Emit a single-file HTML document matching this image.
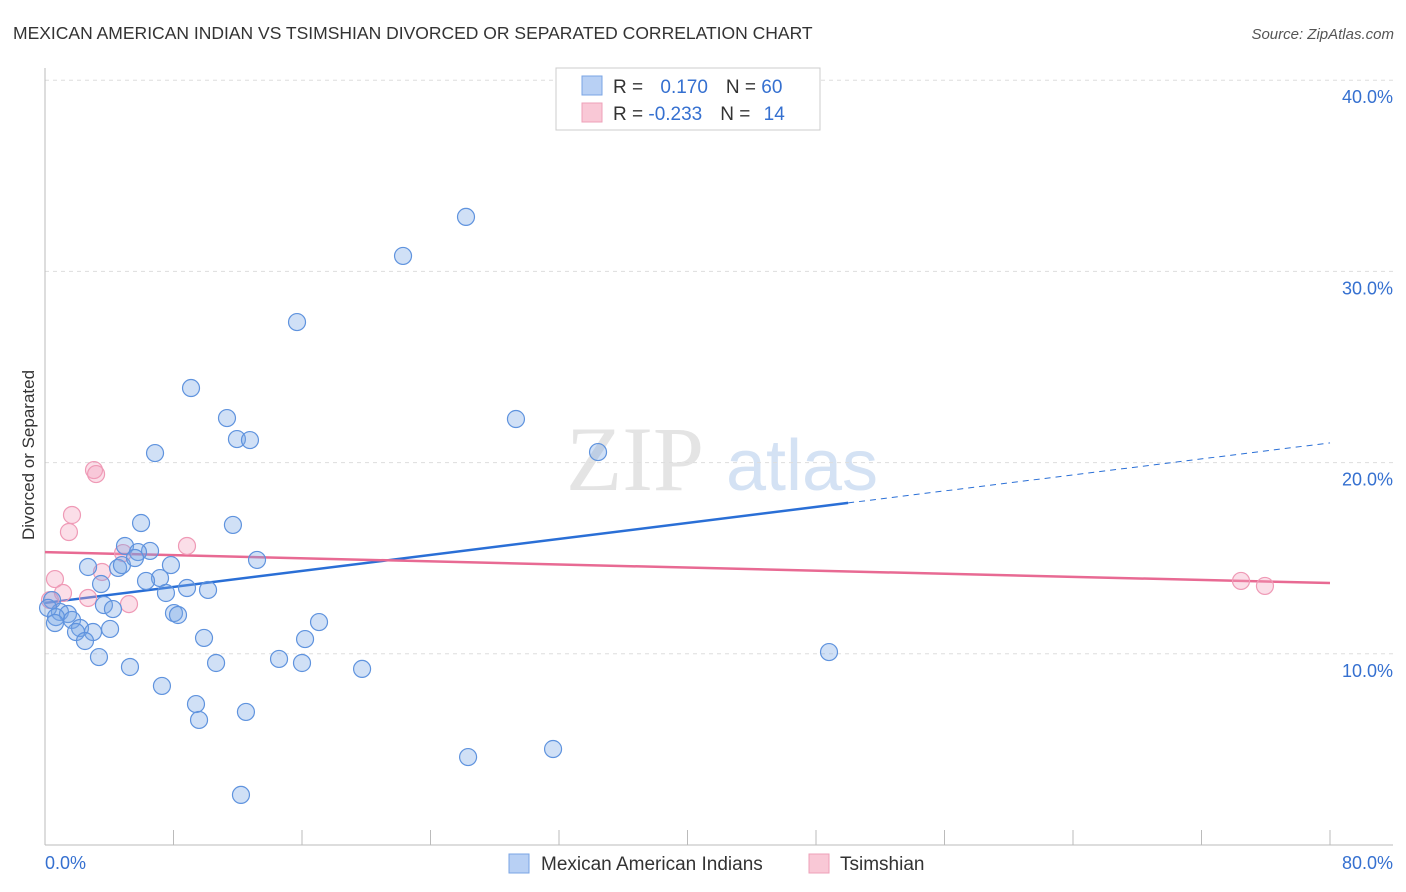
<!DOCTYPE html>
<html><head><meta charset="utf-8"><style>
body{margin:0;background:#fff;font-family:"Liberation Sans",sans-serif}
svg{display:block}
</style></head><body>
<svg id="c" width="1406" height="892" xmlns="http://www.w3.org/2000/svg">
<text x="13" y="39" font-size="17.5" fill="#333">MEXICAN AMERICAN INDIAN VS TSIMSHIAN DIVORCED OR SEPARATED CORRELATION CHART</text>
<text x="1394" y="39" font-size="15" fill="#555" font-style="italic" text-anchor="end">Source: ZipAtlas.com</text>
<text x="34" y="455" font-size="17" fill="#333" text-anchor="middle" transform="rotate(-90 34 455)">Divorced or Separated</text>
<g><text x="635" y="490" font-size="92" fill="#e4e4e4" font-family="Liberation Serif,serif" text-anchor="middle">ZIP</text><text x="802" y="490" font-size="72" fill="#d4e2f4" text-anchor="middle">atlas</text></g>
<g id="grid"></g><g id="axes"></g><g id="trend"></g><g id="pts"></g>
<g>
<rect x="556" y="68" width="264" height="62" fill="#fff" stroke="#ccc"/>
<rect x="582" y="76" width="20" height="19" fill="#b8d0f4" stroke="#7aa4e4"/>
<rect x="582" y="103" width="20" height="19" fill="#f9c8d6" stroke="#eea0b8"/>
<text x="613" y="93" font-size="19" fill="#333">R = <tspan fill="#3570d0" dx="12">0.170</tspan><tspan dx="18" fill="#333">N = </tspan><tspan fill="#3570d0">60</tspan></text>
<text x="613" y="120" font-size="19" fill="#333">R = <tspan fill="#3570d0">-0.233</tspan><tspan dx="18" fill="#333">N = </tspan><tspan fill="#3570d0" dx="8">14</tspan></text>
</g>
<g>
<rect x="509" y="854" width="20" height="19" fill="#b8d0f4" stroke="#7aa4e4"/>
<text x="541" y="870" font-size="19" fill="#333">Mexican American Indians</text>
<rect x="809" y="854" width="20" height="19" fill="#f9c8d6" stroke="#eea0b8"/>
<text x="840" y="870" font-size="19" fill="#333">Tsimshian</text>
</g>
</svg>
<script>
const blueX=[26.21,22.29,15.69,9.09,11.33,29.32,11.95,12.76,6.85,34.43,5.98,11.70,4.98,6.54,5.79,13.20,2.68,4.55,4.79,5.60,7.84,7.16,6.29,3.49,7.53,8.84,10.15,0.44,3.67,4.23,8.03,8.28,0.93,1.43,0.19,0.68,1.68,0.62,2.18,1.93,2.99,4.05,17.06,9.90,16.19,2.49,3.36,14.57,10.65,16.00,5.29,19.74,48.81,7.28,9.40,12.51,9.59,31.63,26.34,12.20];
const blueY=[32.85,30.81,27.35,23.90,22.33,22.28,21.23,21.18,20.50,20.55,16.84,16.74,15.64,15.38,15.32,14.91,14.54,14.49,14.64,15.01,14.64,13.96,13.81,13.65,13.18,13.44,13.34,12.81,12.55,12.34,12.13,12.03,12.19,12.08,12.40,11.92,11.77,11.61,11.35,11.14,11.14,11.30,11.66,10.83,10.77,10.67,9.83,9.73,9.52,9.52,9.31,9.21,10.09,8.32,7.37,6.96,6.54,5.02,4.60,2.62];
const pinkX=[3.05,3.18,1.68,1.49,8.84,4.86,0.62,3.55,1.12,2.68,5.23,0.31,74.46,75.95];
const pinkY=[19.61,19.40,17.26,16.37,15.64,15.27,13.91,14.28,13.18,12.92,12.60,12.81,13.81,13.55];
const yTicks=[10,20,30,40];
const xTickLabels=["0.0%","80.0%"];
const blueTrend=[12.66,21.03], blueSolidEnd=50.0;
const pinkTrend=[15.32,13.70];
const NS="http://www.w3.org/2000/svg";
const sx=v=>45+v/80*1285, sy=v=>845-v*19.12;
function mk(tag,attrs,parent){const e=document.createElementNS(NS,tag);for(const k in attrs)e.setAttribute(k,attrs[k]);document.getElementById(parent).appendChild(e);return e;}
yTicks.forEach(t=>{
 const l=mk('line',{x1:45,x2:1393,y1:sy(t),y2:sy(t),stroke:'#ddd','stroke-dasharray':'4,4'},'grid');
 
 
 const tx=mk('text',{x:1393,y:sy(t)+23,'font-size':18,fill:'#3570d0','text-anchor':'end'},'grid');
 tx.textContent=t.toFixed(1)+'%';
 
 
});
let a=mk('line',{x1:45,x2:45,y1:68,y2:845,stroke:'#bbb'},'axes');


a=mk('line',{x1:45,x2:1393,y1:845,y2:845,stroke:'#bbb'},'axes');


for(let i=0;i<=10;i++){const t=mk('line',{x1:sx(i*8),x2:sx(i*8),y1:830,y2:845,stroke:'#bbb'},'axes');
 
 }
[[0,'start'],[80,'end']].forEach((p,i)=>{const t=mk('text',{x:p[0]===0?45:1393,y:869,'font-size':18,fill:'#3570d0','text-anchor':p[1]},'axes');t.textContent=xTickLabels[i];
 
 });
const by=x=>blueTrend[0]+(blueTrend[1]-blueTrend[0])*x/80;
let tl=mk('line',{x1:sx(0),y1:sy(by(0)),x2:sx(blueSolidEnd),y2:sy(by(blueSolidEnd)),stroke:'#2a6fd6','stroke-width':2.5},'trend');


tl=mk('line',{x1:sx(blueSolidEnd),y1:sy(by(blueSolidEnd)),x2:sx(80),y2:sy(by(80)),stroke:'#2a6fd6','stroke-width':1,'stroke-dasharray':'6,5'},'trend');


tl=mk('line',{x1:sx(0),y1:sy(pinkTrend[0]),x2:sx(80),y2:sy(pinkTrend[1]),stroke:'#e86a93','stroke-width':2.5},'trend');


pinkX.forEach((x,i)=>{const c=mk('circle',{cx:sx(x),cy:sy(pinkY[i]),r:8.5,fill:'rgba(244,160,190,0.35)',stroke:'#ef9ab6','stroke-width':1.2},'pts');
 
 });
blueX.forEach((x,i)=>{const c=mk('circle',{cx:sx(x),cy:sy(blueY[i]),r:8.5,fill:'rgba(120,165,230,0.35)',stroke:'#5f93de','stroke-width':1.2},'pts');
 
 });
</script>
</body></html>
